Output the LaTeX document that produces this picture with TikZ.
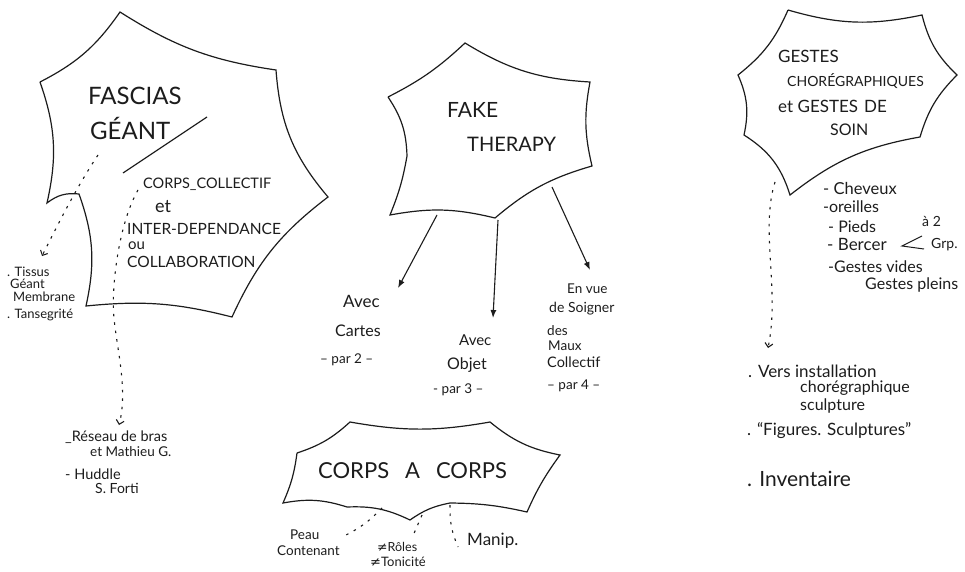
\documentclass[tikz,border=0pt]{standalone}
\usepackage{fontspec}
\setmainfont{Lato}
\newfontfamily\dejavu{DejaVu Sans}
\usetikzlibrary{arrows.meta}
\definecolor{ink}{HTML}{1C1C1C}
\begin{document}
\begin{tikzpicture}[x=1pt,y=-1pt,
  outline/.style={line width=1.2pt, draw=ink},
  divline/.style={line width=1.2pt, draw=ink},
  solidarrow/.style={line width=1.1pt, draw=ink, -{Latex[length=8pt,width=6pt]}},
  dotline/.style={line width=1.1pt, draw=ink, dash pattern=on 2.5pt off 6pt},
  dotarrow/.style={dotline, -{Straight Barb[length=4pt,width=8pt]}},
  txt/.style={inner sep=0pt, anchor=west, text=ink, font=\fontsize{#1}{#1}\selectfont},
]
\useasboundingbox (0,0) rectangle (965,572);

% ---------- FASCIAS GEANT ----------
\coordinate (f1) at (40,82);
\coordinate (f2) at (120,12);
\coordinate (f3) at (276,70);
\coordinate (f4) at (328,197);
\coordinate (f5) at (232,317);
\coordinate (f6) at (86,306);
\coordinate (f7) at (79,194);
\coordinate (f8) at (47,203);
\draw[outline] (f1) to[bend right=14] (f2) to[bend right=12] (f3) to[bend right=18] (f4)
  to[bend right=14] (f5) to[bend right=10] (f6) to[bend right=16] (f7) to[bend right=22] (f8)
  to[bend right=16] (f1);
\coordinate (fl1) at (123,173);
\coordinate (fl2) at (207,117);
\draw[divline] (fl1) -- (fl2);

\node[txt=24] (fascias) at (88,96) {FASCIAS};
\node[txt=24] (geant) at (90,128) {GÉANT};
\node[txt=14.5] (corpscoll) at (143,184) {CORPS\_COLLECTIF};
\node[txt=18] (et1) at (155,207) {et};
\node[txt=15.5] (inter) at (127,229) {INTER-DEPENDANCE};
\node[txt=15] (ou) at (128,246) {ou};
\node[txt=15.5] (collab) at (127,262) {COLLABORATION};

\node[txt=13] (tissus) at (7,272) {. Tissus};
\node[txt=13] (geant2) at (10,284) {Géant};
\node[txt=13] (membrane) at (13,297) {Membrane};
\node[txt=13] (tense) at (7,315) {. Tansegrité};

\coordinate (d1s) at (98,155);
\coordinate (d1e) at (42,256);
\draw[dotarrow] (d1s) .. controls (78,185) and (60,220) .. (d1e);

\coordinate (d2s) at (138,190);
\coordinate (d2m) at (114,318);
\coordinate (d2e) at (119,425);
\draw[dotarrow] (d2s) .. controls (118,225) and (111,290) .. (d2m)
  .. controls (117,350) and (128,390) .. (d2e);

\node[txt=14.5] (reseau) at (65,437) {\_Réseau de bras};
\node[txt=13.5] (mathieu) at (90,452) {et Mathieu G.};
\node[txt=14.5] (huddle) at (65,474) {- Huddle};
\node[txt=14] (forti) at (95,488) {S. Forti};

% ---------- FAKE THERAPY ----------
\coordinate (k1) at (388,97);
\coordinate (k2) at (465,43);
\coordinate (k3) at (590,82);
\coordinate (k4) at (592,166);
\coordinate (k5) at (495,218);
\coordinate (k6) at (390,215);
\coordinate (k7) at (407,156);
\draw[outline] (k1) to[bend right=8] (k2) to[bend right=14] (k3) to[bend right=12] (k4)
  to[bend right=12] (k5) to[bend right=12] (k6) to[bend right=6] (k7) to[bend right=16] (k1);

\node[txt=21] (fake) at (447,110) {FAKE};
\node[txt=20] (therapy) at (467,144) {THERAPY};

\coordinate (a1s) at (437,215);
\coordinate (a1e) at (398,288);
\coordinate (a2s) at (498,220);
\coordinate (a2e) at (493,318);
\coordinate (a3s) at (552,187);
\coordinate (a3e) at (590,270);
\draw[solidarrow] (a1s) -- (a1e);
\draw[solidarrow] (a2s) -- (a2e);
\draw[solidarrow] (a3s) -- (a3e);

\node[txt=17] (avec1) at (343,301) {Avec};
\node[txt=16] (cartes) at (335,331) {Cartes};
\node[txt=13.5] (par2) at (320,360) {– par 2 –};
\node[txt=15] (avec2) at (459,340) {Avec};
\node[txt=16] (objet) at (447,365) {Objet};
\node[txt=13.5] (par3) at (433,390) {- par 3 –};
\node[txt=13.5] (envue) at (567,289) {En vue};
\node[txt=14] (soigner) at (549,309) {de Soigner};
\node[txt=13.5] (des) at (547,331) {des};
\node[txt=13.5] (maux) at (548,346) {Maux};
\node[txt=14.5] (collectif) at (547,362) {Collectif};
\node[txt=13.5] (par4) at (547,386) {– par 4 –};

% ---------- CORPS A CORPS ----------
\coordinate (q1) at (297,453);
\coordinate (q2) at (350,422);
\coordinate (q3) at (490,422);
\coordinate (q4) at (560,455);
\coordinate (q5) at (527,512);
\coordinate (q6) at (450,503);
\coordinate (q7) at (410,520);
\coordinate (q8) at (347,507);
\coordinate (q9) at (283,503);
\draw[outline] (q1) to[bend right=12] (q2) to[bend right=10] (q3) to[bend right=14] (q4)
  to[bend right=6] (q5) to[bend right=6] (q6) to[bend right=12] (q7) to[bend right=14] (q8)
  to[bend right=14] (q9) to[bend right=8] (q1);
\node[txt=22] (cac) at (318,471) {CORPS\hspace{16pt}A\hspace{16pt}CORPS};

\coordinate (c1s) at (382,508);
\coordinate (c1e) at (342,537);
\coordinate (c2s) at (422,515);
\coordinate (c2e) at (412,538);
\coordinate (c3s) at (450,505);
\coordinate (c3e) at (458,547);
\draw[dotline] (c1s) to[bend left=10] (c1e);
\draw[dotline] (c2s) -- (c2e);
\draw[dotline] (c3s) to[bend right=12] (c3e);

\node[txt=13.5] (peau) at (290,535) {Peau};
\node[txt=13.5] (contenant) at (277,551) {Contenant};
\node[txt=12.5] (roles) at (377,547) {{\dejavu ≠}Rôles};
\node[txt=13] (tonicite) at (370,562) {{\dejavu ≠}Tonicité};
\node[txt=17] (manip) at (467,541) {Manip.};

% ---------- GESTES ----------
\coordinate (w1) at (788,10);
\coordinate (w2) at (922,15);
\coordinate (w3) at (957,75);
\coordinate (w4) at (920,137);
\coordinate (w5) at (790,195);
\coordinate (w6) at (744,135);
\coordinate (w7) at (738,75);
\draw[outline] (w1) to[bend right=14] (w2) to[bend right=16] (w3) to[bend right=14] (w4)
  to[bend right=14] (w5) to[bend right=20] (w6) to[bend right=18] (w7) to[bend right=14] (w1);

\node[txt=17] (gestes) at (778,56) {GESTES};
\node[txt=14] (choreg) at (787,81) {CHORÉGRAPHIQUES};
\node[txt=17] (etgestes) at (778,106) {et GESTES\hspace{6pt}DE};
\node[txt=16] (soin) at (830,130) {SOIN};

\node[txt=16.5] (cheveux) at (823,188) {- Cheveux};
\node[txt=16] (oreilles) at (823,207) {-oreilles};
\node[txt=16] (pieds) at (828,227) {- Pieds};
\node[txt=17] (bercer) at (827,244) {- Bercer};
\node[txt=14] (a2) at (922,221) {à 2};
\node[txt=14] (grp) at (931,245) {Grp.};
\coordinate (b1) at (922,236);
\coordinate (b2) at (902,246);
\coordinate (b3) at (924,249);
\draw[divline, line width=1pt] (b1) -- (b2) -- (b3);
\node[txt=16] (vides) at (828,267) {-Gestes vides};
\node[txt=16] (pleins) at (865,285) {Gestes pleins};

\coordinate (d3s) at (775,182);
\coordinate (d3e) at (768,348);
\draw[dotarrow] (d3s) .. controls (760,230) and (780,290) .. (d3e);

\node[txt=17] (vers) at (748,371) {. Vers installation};
\node[txt=16] (choregr) at (800,388) {chorégraphique};
\node[txt=16] (sculpt) at (800,406) {sculpture};
\node[txt=17] (figures) at (747,431) {. “Figures. Sculptures”};
\node[txt=21] (invent) at (747,479) {. Inventaire};
\end{tikzpicture}
\end{document}
